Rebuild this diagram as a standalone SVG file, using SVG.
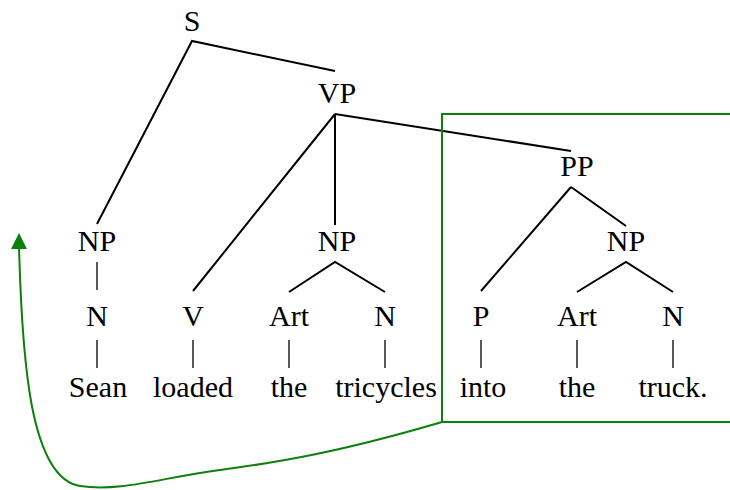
<svg xmlns="http://www.w3.org/2000/svg" width="730" height="490" viewBox="0 0 730 490">
<defs>
<style>
text{font-family:"Liberation Serif","Times New Roman",serif;font-size:30px;fill:#000;text-anchor:middle}
.e line,.e polyline{stroke:#000;stroke-width:2;fill:none}
.e line.bar{stroke-width:1.3}
.g{stroke:#0b800b;stroke-width:2;fill:none}
</style>
</defs>
<rect width="730" height="490" fill="#fff"/>
<g id="edges" class="e">
<polyline points="97,224 192,41 335,71"/>
<line x1="335" y1="114" x2="193" y2="291"/>
<line x1="335" y1="114" x2="335" y2="225"/>
<line x1="335" y1="114" x2="571" y2="151"/>
<line x1="571" y1="187" x2="481" y2="291"/>
<line x1="571" y1="187" x2="626" y2="226"/>
<polyline points="289,292 335,262 385,292"/>
<polyline points="577,292 626,262 673,292"/>
<line class="bar" x1="97" y1="262" x2="97" y2="290"/>
<line class="bar" x1="97" y1="340" x2="97" y2="368"/>
<line class="bar" x1="193" y1="340" x2="193" y2="368"/>
<line class="bar" x1="289" y1="340" x2="289" y2="368"/>
<line class="bar" x1="385" y1="340" x2="385" y2="368"/>
<line class="bar" x1="481" y1="340" x2="481" y2="368"/>
<line class="bar" x1="577" y1="340" x2="577" y2="368"/>
<line class="bar" x1="673" y1="340" x2="673" y2="368"/>
</g>
<g id="n-S"><text x="192" y="31">S</text></g>
<g id="n-VP"><text x="337" y="103">VP</text></g>
<g id="n-PP"><text x="577" y="176">PP</text></g>
<g id="n-NP1"><text x="97" y="251">NP</text></g>
<g id="n-NP2"><text x="337" y="251">NP</text></g>
<g id="n-NP3"><text x="626" y="251">NP</text></g>
<g id="n-N1"><text x="97" y="326">N</text></g>
<g id="n-V"><text x="193" y="326">V</text></g>
<g id="n-Art1"><text x="289" y="326">Art</text></g>
<g id="n-N2"><text x="385" y="326">N</text></g>
<g id="n-P"><text x="481" y="326">P</text></g>
<g id="n-Art2"><text x="577" y="326">Art</text></g>
<g id="n-N3"><text x="673" y="326">N</text></g>
<g id="w-Sean"><text x="98" y="397">Sean</text></g>
<g id="w-loaded"><text x="193" y="397">loaded</text></g>
<g id="w-the1"><text x="289" y="397">the</text></g>
<g id="w-tricycles"><text x="386" y="397">tricycles</text></g>
<g id="w-into"><text x="483" y="397">into</text></g>
<g id="w-the2"><text x="577" y="397">the</text></g>
<g id="w-truck"><text x="673" y="397">truck.</text></g>
<g id="box"><polyline class="g" points="731,114 442,114 442,422 731,422"/></g>
<g id="arrow">
<path class="g" d="M442,422 C 340,452 280,462 220,470 C 160,478 120,492 80,486 C 30,478 22,360 19,246"/>
<polygon points="19,233 11,249 27,249" fill="#0b800b"/>
</g>
</svg>
